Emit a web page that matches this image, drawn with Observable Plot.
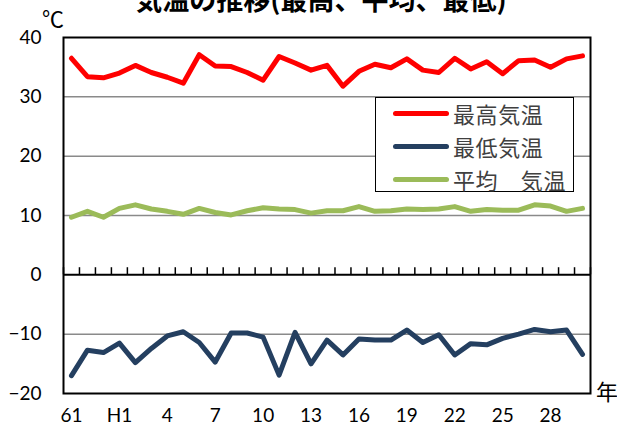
<!DOCTYPE html>
<html><head><meta charset="utf-8">
<script src="https://cdn.jsdelivr.net/npm/d3@7"></script>
<script src="https://cdn.jsdelivr.net/npm/@observablehq/plot@0.6"></script>
<style>
body{margin:0;background:#fff}
#wrap{position:relative;width:617px;height:425px;overflow:hidden;font-family:Lato,sans-serif;background:#fff}
#title{position:absolute;left:0;width:642px;text-align:center;top:-15px;font:bold 27px/27px "Noto Sans CJK JP";color:#000;white-space:nowrap}
#unit{position:absolute;left:42px;top:4px;font:22px/26px "Noto Sans CJK JP";color:#000}
#nen{position:absolute;left:596px;top:377px;font:22px/26px "Noto Sans CJK JP";color:#000}
#legend{position:absolute;left:375px;top:97px;width:197px;height:93px;border:1.5px solid #000;background:#fff;box-sizing:content-box}
.item{position:absolute;left:17px;height:30px;display:flex;align-items:center}
.sw{width:56px;height:5px;border-radius:3px;margin-right:4px}
.lab{font:22px/30px "Noto Sans CJK JP";color:#404040;letter-spacing:0.6px;white-space:pre}
svg{position:absolute;left:0;top:0}
</style></head><body>
<div id="wrap"></div>
<script>
const years = ["61","62","63","H1","2","3","4","5","6","7","8","9","10","11","12","13","14","15","16","17","18","19","20","21","22","23","24","25","26","27","28","29","30"];
const maxT = [36.5,33.4,33.2,34.0,35.3,34.1,33.3,32.3,37.1,35.2,35.1,34.1,32.8,36.8,35.7,34.5,35.3,31.8,34.3,35.5,34.9,36.4,34.5,34.1,36.5,34.7,35.9,33.9,36.1,36.2,35.0,36.4,36.9];
const minT = [-17.0,-12.7,-13.1,-11.5,-14.8,-12.4,-10.3,-9.6,-11.4,-14.7,-9.8,-9.8,-10.5,-16.9,-9.7,-15.0,-11.0,-13.5,-10.8,-11.0,-11.0,-9.3,-11.4,-10.1,-13.5,-11.6,-11.8,-10.7,-10.0,-9.2,-9.6,-9.3,-13.4];
const avgT = [9.7,10.7,9.7,11.2,11.8,11.1,10.7,10.2,11.2,10.5,10.1,10.8,11.3,11.1,11.0,10.4,10.8,10.8,11.5,10.7,10.8,11.1,11.0,11.1,11.5,10.7,11.0,10.9,10.9,11.8,11.6,10.7,11.2];
const yTicks = [-20,-10,0,10,20,30,40];
const gridY = [30,20,10,-10];
const seriesNames = ["最高気温","最低気温","平均　気温"];
const seriesColors = ["#ff0000","#243f60","#9bbb59"];

const xIdx = years.map((d,i)=>i);
const labelIdx = xIdx.filter(i => i % 3 === 0);
const bounds = years.map((d,i)=>i-0.5).concat([years.length-0.5]);

const lineOpts = (c)=>({stroke:c, strokeWidth:5, strokeLinejoin:"round", strokeLinecap:"round"});

const chart = Plot.plot({
  width:617, height:425,
  marginLeft:63, marginRight:27, marginTop:37, marginBottom:32,
  x:{type:"linear", domain:[-0.5, years.length-0.5]},
  y:{domain:[-20,40]},
  style:{fontFamily:"Lato, sans-serif", fontSize:"19px", color:"#000", background:"transparent", overflow:"visible"},
  marks:[
    Plot.ruleY(gridY, {stroke:"#8a8a8a", strokeWidth:1.5}),
    Plot.ruleX(bounds, {y1:0, y2:1.2, stroke:"#000", strokeWidth:1.5}),
    Plot.ruleY([0], {stroke:"#000", strokeWidth:2}),
    Plot.lineY(maxT, {x:(d,i)=>i, y:d=>d, ...lineOpts(seriesColors[0])}),
    Plot.lineY(minT, {x:(d,i)=>i, y:d=>d, ...lineOpts(seriesColors[1])}),
    Plot.lineY(avgT, {x:(d,i)=>i, y:d=>d, ...lineOpts(seriesColors[2])}),
    Plot.frame({stroke:"#000", strokeWidth:2}),
    Plot.axisY({ticks:yTicks, tickSize:0, tickPadding:22, label:null}),
    Plot.axisX({ticks:labelIdx, tickFormat:i=>years[i], tickSize:0, tickPadding:15, label:null})
  ]
});

const wrap = document.getElementById("wrap");
wrap.appendChild(chart);

const title = document.createElement("div");
title.id = "title"; title.textContent = "気温の推移(最高、平均、最低)";
wrap.appendChild(title);
const unit = document.createElement("div");
unit.id = "unit"; unit.textContent = "℃";
wrap.appendChild(unit);
const nen = document.createElement("div");
nen.id = "nen"; nen.textContent = "年";
wrap.appendChild(nen);

const legend = document.createElement("div");
legend.id = "legend";
seriesNames.forEach((n,i)=>{
  const it = document.createElement("div");
  it.className = "item";
  it.style.top = (0 + i*33) + "px";
  const sw = document.createElement("div");
  sw.className = "sw"; sw.style.background = seriesColors[i];
  const lb = document.createElement("span");
  lb.className = "lab"; lb.textContent = n;
  it.appendChild(sw); it.appendChild(lb);
  legend.appendChild(it);
});
wrap.appendChild(legend);
</script>
</body></html>
